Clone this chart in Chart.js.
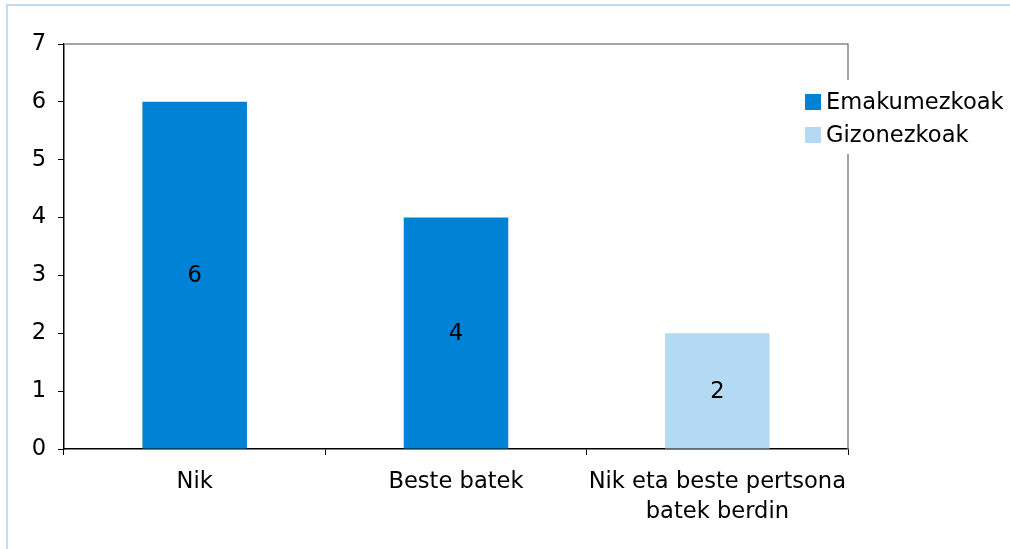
<!DOCTYPE html>
<html>
<head>
<meta charset="utf-8">
<script src="https://cdn.jsdelivr.net/npm/chart.js@4"></script>
<style>
  body { margin: 0; background: #fff; }
  #wrap { width: 1010px; height: 549px; }
</style>
</head>
<body>
<div id="wrap"><canvas id="chart" width="1010" height="549"></canvas></div>
<script>
const categories = ['Nik', 'Beste batek', ['Nik eta beste pertsona', 'batek berdin']];
const emakumezkoak = [6, 4, null];
const gizonezkoak = [null, null, 2];
const yTicks = [0, 1, 2, 3, 4, 5, 6, 7];

const FONT = '"DejaVu Sans", Verdana, sans-serif';
const FONT_SIZE = 22.6;

// light blue frame around the whole chart
const framePlugin = {
    id: 'frame',
    beforeDraw(chart) {
        const ctx = chart.ctx;
        ctx.save();
        ctx.fillStyle = '#fff';
        ctx.fillRect(0, 0, chart.width, chart.height);
        ctx.strokeStyle = '#BEDDF3';
        ctx.lineWidth = 2;
        ctx.beginPath();
        ctx.moveTo(7, chart.height);
        ctx.lineTo(7, 5);
        ctx.lineTo(chart.width, 5);
        ctx.stroke();
        ctx.restore();
    }
};

// grey top and right edges of the plot area
const plotBorder = {
    id: 'plotBorder',
    beforeDatasetsDraw(chart) {
        const { ctx, chartArea: a } = chart;
        ctx.save();
        ctx.strokeStyle = '#888';
        ctx.lineWidth = 1.5;
        ctx.beginPath();
        ctx.moveTo(a.left, a.top);
        ctx.lineTo(a.right, a.top);
        ctx.lineTo(a.right, a.bottom);
        ctx.stroke();
        ctx.restore();
    }
};

// value written in the middle of each bar
const barValues = {
    id: 'barValues',
    afterDatasetsDraw(chart) {
        const ctx = chart.ctx;
        ctx.save();
        ctx.font = FONT_SIZE + 'px ' + FONT;
        ctx.fillStyle = '#000';
        ctx.textAlign = 'center';
        ctx.textBaseline = 'middle';
        chart.data.datasets.forEach((ds, i) => {
            chart.getDatasetMeta(i).data.forEach((bar, j) => {
                const v = ds.data[j];
                if (v === null || v === undefined) return;
                ctx.fillText(String(v), bar.x, (bar.y + bar.base) / 2 + 1);
            });
        });
        ctx.restore();
    }
};

// legend box sitting over the right edge of the plot
const sideLegend = {
    id: 'sideLegend',
    afterDraw(chart) {
        const ctx = chart.ctx;
        const x = 805, y0 = 94, step = 33, box = 16;
        ctx.save();
        ctx.fillStyle = '#fff';
        ctx.fillRect(798, 80, 210, 74);
        ctx.font = FONT_SIZE + 'px ' + FONT;
        ctx.textBaseline = 'middle';
        chart.data.datasets.forEach((ds, i) => {
            const y = y0 + i * step;
            ctx.fillStyle = ds.backgroundColor;
            ctx.fillRect(x, y, box, box);
            ctx.fillStyle = '#000';
            ctx.fillText(ds.label, x + box + 5, y + box / 2 + 1);
        });
        ctx.restore();
    }
};

new Chart(document.getElementById('chart'), {
    type: 'bar',
    data: {
        labels: categories,
        datasets: [
            { label: 'Emakumezkoak', data: emakumezkoak, backgroundColor: '#0082D7' },
            { label: 'Gizonezkoak', data: gizonezkoak, backgroundColor: '#B3DAF2' }
        ]
    },
    options: {
        responsive: false,
        animation: false,
        devicePixelRatio: 1,
        layout: { padding: { left: 8, top: 44, right: 162, bottom: 0 } },
        plugins: { legend: { display: false }, tooltip: { enabled: false } },
        datasets: { bar: { categoryPercentage: 1, barPercentage: 0.4 } },
        scales: {
            x: {
                stacked: true,
                grid: { display: true, drawOnChartArea: false, offset: true, tickLength: 6, color: '#000' },
                border: { color: '#000', width: 1.5 },
                ticks: { color: '#000', font: { family: FONT, size: FONT_SIZE, lineHeight: 1.33 }, padding: 12, maxRotation: 0 },
                afterFit(scale) { scale.height = 100; }
            },
            y: {
                stacked: true,
                min: 0,
                max: 7,
                afterBuildTicks(scale) { scale.ticks = yTicks.map(v => ({ value: v })); },
                grid: { display: true, drawOnChartArea: false, tickLength: 6, color: '#000' },
                border: { color: '#000', width: 1.5 },
                ticks: { color: '#000', font: { family: FONT, size: FONT_SIZE }, padding: 12 },
                afterFit(scale) { scale.width = 56; }
            }
        }
    },
    plugins: [framePlugin, plotBorder, barValues, sideLegend]
});
</script>
</body>
</html>
